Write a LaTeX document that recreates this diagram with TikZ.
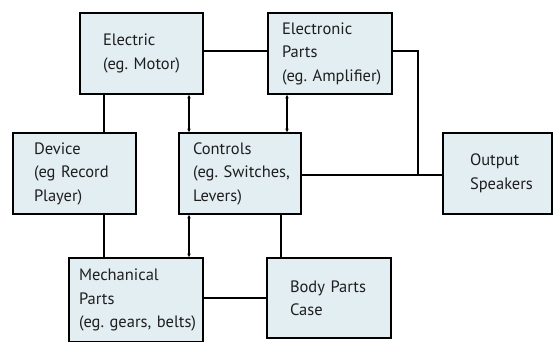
\documentclass[tikz,border=0pt]{standalone}
\usepackage{fontspec}
\setmainfont{PT Sans}
\frenchspacing
\usetikzlibrary{arrows.meta}
\definecolor{boxfill}{RGB}{227,238,243}
\definecolor{txtcol}{RGB}{30,30,30}
\tikzset{
  box/.style={draw=black, line width=1.8pt, fill=boxfill, rectangle, inner ysep=0pt,
    align=left, text=txtcol, font=\fontsize{16.5}{23.5}\selectfont\frenchspacing},
  wire/.style={line width=1.3pt, draw=black},
  bi/.style={wire, {Stealth[length=3.5pt,width=3.5pt]}-{Stealth[length=3.5pt,width=3.5pt]}},
}
\begin{document}
\begin{tikzpicture}[x=1pt,y=-1pt]
\useasboundingbox (0,0) rectangle (554,341);
\node[box, minimum width=123pt, minimum height=81pt, inner xsep=23pt, text width=77pt] (elec) at (141.5,53.5) {\mbox{Electric}\\\mbox{(eg. Motor)}};
\node[box, minimum width=124pt, minimum height=81pt, inner xsep=14pt, text width=96pt] (etron) at (330,53.5) {\mbox{Electronic}\\\mbox{Parts}\\\mbox{(eg. Amplifier)}};
\node[box, minimum width=123pt, minimum height=81pt, inner xsep=21pt, text width=81pt] (dev) at (74.5,173.5) {\mbox{Device}\\\mbox{(eg Record}\\\mbox{Player)}};
\node[box, minimum width=122pt, minimum height=81pt, inner xsep=14pt, text width=94pt] (ctrl) at (240,173.5) {\mbox{Controls}\\\mbox{(eg. Switches,}\\\mbox{Levers)}};
\node[box, minimum width=109pt, minimum height=81pt, inner xsep=27pt, text width=55pt] (out) at (497.5,173.5) {\mbox{Output}\\\mbox{Speakers}};
\node[box, minimum width=134pt, minimum height=84pt, inner xsep=10pt, text width=114pt] (mech) at (136,300) {\mbox{Mechanical}\\\mbox{Parts}\\\mbox{(eg. gears, belts)}};
\node[box, minimum width=124pt, minimum height=80pt, inner xsep=23pt, text width=78pt] (body) at (329,298) {\mbox{Body Parts}\\\mbox{Case}};
\coordinate (j) at (418,175);
\draw[wire] ([yshift=2.5pt]elec.east) -- ([yshift=2.5pt]elec.east -| etron.west);
\draw[wire] ([xshift=-37.5pt]elec.south) -- ([xshift=-37.5pt]elec.south |- dev.north);
\draw[bi] ([xshift=47.5pt]elec.south) -- ([xshift=47.5pt]elec.south |- ctrl.north);
\draw[bi] ([xshift=-43pt]etron.south) -- ([xshift=-43pt]etron.south |- ctrl.north);
\draw[wire] ([yshift=2.5pt]etron.east) -| (j);
\draw[wire] ([yshift=-1.5pt]ctrl.east) -- ([yshift=-1.5pt]ctrl.east -| out.west);
\draw[wire] ([xshift=29.5pt]dev.south) -- ([xshift=29.5pt]dev.south |- mech.north);
\draw[bi] ([xshift=-51pt]ctrl.south) -- ([xshift=-51pt]ctrl.south |- mech.north);
\draw[wire] ([xshift=41pt]ctrl.south) -- ([xshift=41pt]ctrl.south |- body.north);
\draw[wire] ([yshift=2pt]mech.east) -- ([yshift=2pt]mech.east -| body.west);
\end{tikzpicture}
\end{document}
